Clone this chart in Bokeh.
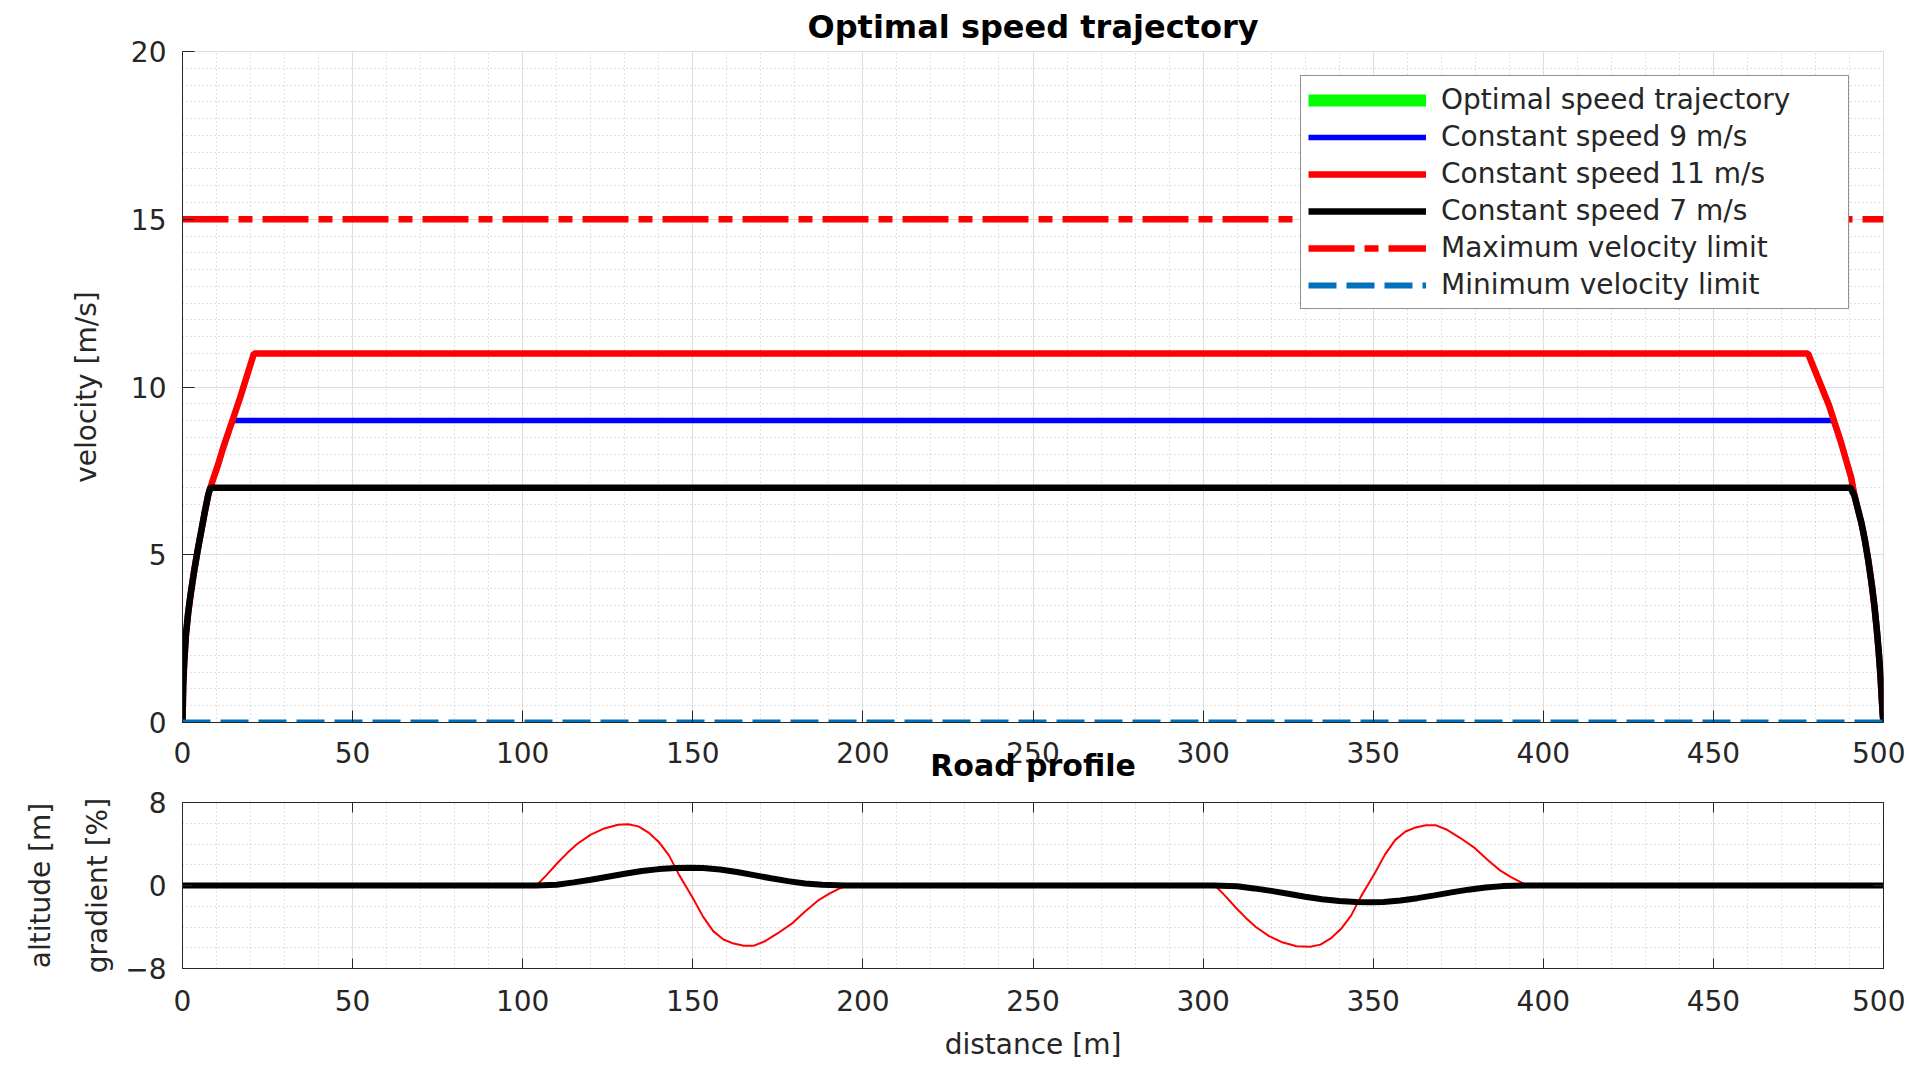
from bokeh.plotting import figure
from bokeh.models import (Legend, LegendItem, LinearAxis, SingleIntervalTicker,
                          FixedTicker, Range1d, CustomLabelingPolicy)
from bokeh.layouts import column
from bokeh.embed import file_html
from bokeh.resources import INLINE

FONT = "DejaVu Sans"
AXC = "#262626"

# ---------------- data ----------------
x_limits = [0, 500]
v_max_limit = [15, 15]
v_min_limit = [0, 0]

# optimal trajectory: listed in the legend, not visible in the plot
opt_x = [0]
opt_y = [0]

# common acceleration branch (from standstill)
acc_x = [0, 0.2, 0.5, 1.0, 1.7, 2.5, 3.4, 4.4, 5.5, 6.6, 7.6, 8.2]
acc_y = [0, 1.1, 1.8, 2.6, 3.3, 3.9, 4.5, 5.1, 5.7, 6.3, 6.8, 7.0]

# common braking branch (down to standstill at 500 m)
dec_x = [491.5, 492.5, 493.5, 494.5, 495.5, 496.5, 497.3, 498.0, 498.6, 499.1,
         499.5, 499.8, 500]
dec_y = [6.75, 6.35, 5.95, 5.45, 4.85, 4.15, 3.5, 2.8, 2.1, 1.4, 0.7, 0.2, 0]

v7_x = acc_x + [490.3] + dec_x
v7_y = acc_y + [7.0] + dec_y

v9_x = acc_x + [9, 10.5, 12, 13.5, 14.7, 485.3, 487.5, 490.5] + dec_x
v9_y = acc_y + [7.25, 7.7, 8.2, 8.65, 9.0, 9.0, 8.35, 7.3] + dec_y

v11_x = acc_x + [9, 10.5, 12, 13.5, 15, 17, 19, 21, 477.8, 481, 484, 487.5, 490.5] + dec_x
v11_y = acc_y + [7.25, 7.7, 8.2, 8.65, 9.1, 9.7, 10.35, 11.0, 11.0, 10.2, 9.45, 8.35, 7.3] + dec_y

# road profile
alt_x = [0, 104, 110, 115, 120, 125, 130, 135, 140, 145, 149, 153, 158, 163, 168, 173,
         178, 183, 188, 195, 303, 310, 315, 320, 325, 330, 335, 340, 345, 349, 353,
         358, 363, 368, 373, 378, 383, 388, 395, 500]
alt_y = [0, 0, 0.08, 0.3, 0.55, 0.85, 1.13, 1.4, 1.58, 1.68, 1.72, 1.68, 1.55, 1.3, 1.0,
         0.7, 0.42, 0.2, 0.07, 0, 0, -0.08, -0.28, -0.52, -0.8, -1.08, -1.33, -1.5,
         -1.6, -1.62, -1.58, -1.45, -1.22, -0.95, -0.66, -0.4, -0.2, -0.06, 0, 0]

grad_x = [0, 104, 107, 110, 113, 116, 120, 124, 128, 131, 134, 137, 140, 143, 146, 148,
          150, 153, 156, 159, 162, 165, 168, 171, 175, 179, 183, 187, 190, 193, 196,
          303.5, 306.5, 309.5, 312.5, 315.5, 319.5, 323.5, 327.5, 331.5, 334.5, 337.5,
          340.5, 343.5, 346.5, 348.5, 350.5, 353.5, 356.5, 359.5, 362.5, 365.5, 368.5,
          371.5, 375.5, 379.5, 383.5, 387.5, 390.5, 393.5, 395.5, 500]
grad_y = [0, 0, 1.0, 2.1, 3.1, 4.0, 4.9, 5.5, 5.85, 5.9, 5.7, 5.1, 4.2, 2.9, 1.0, -0.1,
          -1.2, -3.0, -4.4, -5.2, -5.6, -5.8, -5.8, -5.4, -4.6, -3.7, -2.5, -1.4, -0.8, -0.3, 0,
          0, -1.0, -2.1, -3.1, -4.0, -4.9, -5.5, -5.85, -5.9, -5.7, -5.1,
          -4.2, -2.9, -1.0, 0.1, 1.2, 3.0, 4.4, 5.2, 5.6, 5.8, 5.8,
          5.4, 4.6, 3.7, 2.5, 1.4, 0.8, 0.3, 0, 0]

x_ticks_interval = 50
v_ticks_interval = 5
road_ticks_interval = 8


def style_axis(ax, size="28px"):
    ax.axis_line_color = AXC
    ax.axis_line_width = 1
    ax.major_tick_line_color = AXC
    ax.major_tick_in = 12
    ax.major_tick_out = 0
    ax.minor_tick_in = 0
    ax.minor_tick_out = 0
    ax.major_label_text_font = FONT
    ax.major_label_text_font_size = size
    ax.major_label_text_color = AXC
    ax.axis_label_text_font = FONT
    ax.axis_label_text_font_size = "28px"
    ax.axis_label_text_font_style = "normal"
    ax.axis_label_text_color = AXC


def style_grid(p):
    for g in (p.xgrid, p.ygrid):
        g.grid_line_color = "#dedede"
        g.grid_line_width = 1
        g.minor_grid_line_color = "#c4c4c4"
        g.minor_grid_line_dash = "1 3"
        g.minor_grid_line_width = 1


def tick_only_axis(ticker):
    ax = LinearAxis(ticker=ticker,
                    major_label_policy=CustomLabelingPolicy(code="return new Set()"))
    style_axis(ax, size="1px")
    ax.major_tick_in = 10
    ax.major_label_standoff = 0
    return ax


# ---------------- top figure ----------------
p1 = figure(width=1905, height=785, x_range=Range1d(0, 500), y_range=Range1d(0, 20),
            output_backend="svg", toolbar_location=None,
            min_border_left=182, min_border_right=22, min_border_top=49, min_border_bottom=61,
            title="Optimal speed trajectory")
p1.title.text_font = FONT
p1.title.text_font_size = "32px"
p1.title.text_font_style = "bold"
p1.title.text_color = "black"
p1.title.align = "center"
p1.title.standoff = 11
p1.outline_line_color = "#dcdcdc"
p1.background_fill_color = "white"

p1.xaxis.ticker = SingleIntervalTicker(interval=x_ticks_interval, num_minor_ticks=5)
p1.yaxis.ticker = SingleIntervalTicker(interval=v_ticks_interval, num_minor_ticks=10)
for ax in p1.xaxis:
    style_axis(ax)
    ax.major_label_standoff = 19
    # title of the lower panel, placed where the reference draws it
    ax.axis_label = "Road profile"
    ax.axis_label_text_font_size = "30px"
    ax.axis_label_text_font_style = "bold"
    ax.axis_label_text_color = "black"
    ax.axis_label_standoff = -18
for ax in p1.yaxis:
    style_axis(ax)
    ax.major_label_standoff = 16
    ax.axis_label = "velocity [m/s]"
    ax.axis_label_standoff = 25
style_grid(p1)

r_opt = p1.line(opt_x, opt_y, line_color="#00FF00", line_width=12)
r9 = p1.line(v9_x, v9_y, line_color="#0000FF", line_width=5.5)
r11 = p1.line(v11_x, v11_y, line_color="#FF0000", line_width=6.5)
r7 = p1.line(v7_x, v7_y, line_color="#000000", line_width=6.5)
rmax = p1.line(x_limits, v_max_limit, line_color="#FF0000", line_width=6.5,
               line_dash="46 10 14 10")
rmin = p1.line(x_limits, v_min_limit, line_color="#0072BD", line_width=6,
               line_dash="28 10")

legend = Legend(items=[
    LegendItem(label="Optimal speed trajectory", renderers=[r_opt]),
    LegendItem(label="Constant speed 9 m/s", renderers=[r9]),
    LegendItem(label="Constant speed 11 m/s", renderers=[r11]),
    LegendItem(label="Constant speed 7 m/s", renderers=[r7]),
    LegendItem(label="Maximum velocity limit", renderers=[rmax]),
    LegendItem(label="Minimum velocity limit", renderers=[rmin]),
], location=(1118, 413))
legend.label_text_font = FONT
legend.label_text_font_size = "28px"
legend.label_text_color = AXC
legend.glyph_width = 118
legend.glyph_height = 30
legend.label_height = 30
legend.label_width = 400
legend.label_standoff = 15
legend.spacing = 4
legend.padding = 7
legend.margin = 0
legend.border_line_color = AXC
legend.border_line_width = 1.5
legend.background_fill_color = "white"
legend.background_fill_alpha = 1
p1.add_layout(legend)

# ---------------- bottom figure ----------------
p2 = figure(width=1905, height=278, x_range=Range1d(0, 500), y_range=Range1d(-8, 8),
            output_backend="svg", toolbar_location=None,
            min_border_left=182, min_border_right=22, min_border_top=17, min_border_bottom=93)
p2.outline_line_color = AXC
p2.background_fill_color = "white"
p2.xaxis.ticker = SingleIntervalTicker(interval=x_ticks_interval, num_minor_ticks=5)
p2.yaxis.ticker = SingleIntervalTicker(interval=road_ticks_interval, num_minor_ticks=4)
for ax in p2.xaxis:
    style_axis(ax)
    ax.major_tick_in = 10
    ax.major_label_standoff = 21
    ax.axis_label = "distance [m]"
    ax.axis_label_standoff = 14
for ax in p2.yaxis:
    style_axis(ax)
    ax.major_tick_in = 10
    ax.major_label_standoff = 16
    ax.axis_label = "gradient [%]"
    ax.axis_label_standoff = 8
style_grid(p2)

ax_alt = LinearAxis(ticker=FixedTicker(ticks=[]), axis_label="altitude [m]")
style_axis(ax_alt)
ax_alt.axis_line_color = None
ax_alt.major_tick_line_color = None
ax_alt.major_label_standoff = 0
ax_alt.axis_label_standoff = 22
p2.add_layout(ax_alt, "left")

p2.add_layout(tick_only_axis(SingleIntervalTicker(interval=x_ticks_interval)), "above")
p2.add_layout(tick_only_axis(SingleIntervalTicker(interval=road_ticks_interval)), "right")

p2.line(grad_x, grad_y, line_color="#FF0000", line_width=2)
p2.line(alt_x, alt_y, line_color="#000000", line_width=6)

layout = column(p1, p2, spacing=0)
open("out.html", "w").write(file_html(layout, INLINE))
